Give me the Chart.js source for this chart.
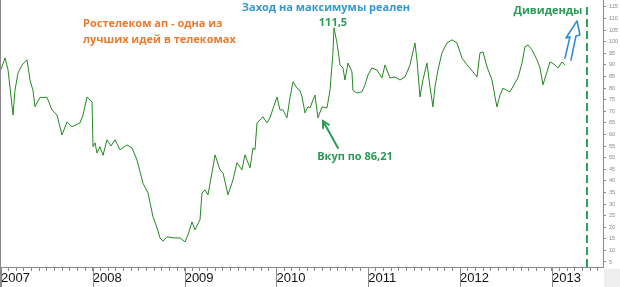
<!DOCTYPE html>
<html>
<head>
<meta charset="utf-8">
<script src="https://cdn.jsdelivr.net/npm/chart.js@4/dist/chart.umd.min.js"></script>
<style>
html,body{margin:0;padding:0;background:#fff;}
#wrap{width:620px;height:287px;position:relative;}
</style>
</head>
<body>
<div id="wrap"><canvas id="c" width="620" height="287"></canvas></div>
<script>
// Time as decimal years, price values (Ростелеком ап)
const dates = [
 2007.000,2007.044,2007.076,2007.131,2007.152,2007.185,2007.229,2007.283,2007.316,2007.348,
 2007.370,2007.425,2007.501,2007.555,2007.610,2007.664,2007.719,2007.773,2007.860,2007.893,
 2007.937,2007.991,2008.002,2008.024,2008.045,2008.078,2008.111,2008.154,2008.198,2008.241,
 2008.296,2008.372,2008.427,2008.481,2008.546,2008.601,2008.655,2008.699,2008.731,2008.764,
 2008.808,2008.873,2008.949,2009.004,2009.036,2009.080,2009.113,2009.167,2009.189,2009.222,
 2009.254,2009.309,2009.331,2009.385,2009.418,2009.472,2009.526,2009.570,2009.624,2009.657,
 2009.712,2009.744,2009.766,2009.788,2009.853,2009.897,2009.929,2010.006,2010.038,2010.071,
 2010.114,2010.147,2010.180,2010.223,2010.256,2010.278,2010.311,2010.343,2010.365,2010.419,
 2010.452,2010.496,2010.550,2010.583,2010.615,2010.626,2010.659,2010.692,2010.724,2010.746,
 2010.779,2010.822,2010.833,2010.877,2010.931,2010.964,2010.997,2011.040,2011.094,2011.149,
 2011.182,2011.236,2011.291,2011.345,2011.400,2011.454,2011.508,2011.530,2011.563,2011.595,
 2011.639,2011.672,2011.704,2011.726,2011.759,2011.802,2011.857,2011.911,2011.966,2012.020,
 2012.075,2012.140,2012.184,2012.216,2012.249,2012.293,2012.347,2012.380,2012.401,2012.434,
 2012.467,2012.510,2012.543,2012.597,2012.630,2012.674,2012.706,2012.739,2012.783,2012.837,
 2012.870,2012.902,2012.946,2012.979,2013.033,2013.066,2013.109,2013.142
];
const prices = [
 88,93,88,68.4,79,86.5,90,92.2,83.5,79,
 72,76,76,70.6,68.4,59.8,65.4,63.3,65,68.4,
 76.2,74,54.7,56.4,52,54.7,51,57.7,55,57.7,
 53.4,55.5,54.2,49,39,34.8,24.5,19.7,15.4,14,
 15.9,15.4,15.4,13.7,16.7,22.3,18.9,23.2,34.8,36.1,
 34,46,51.2,44.7,43.4,34,40.4,47.8,44.7,51.2,
 45.6,54.2,53.4,65,67.6,65,67.2,76.2,70.6,70.6,
 67.2,75.8,82.7,80,79,76.2,69.3,72,71.5,77,
 67.2,71.9,71.5,79,95.2,106,99.5,90,88.7,83.5,
 90.8,87,79,77.9,78.4,81.4,85.7,88.7,87.8,84.4,
 90,84.4,84.8,83.5,84.8,90,99.5,92.2,76.2,83.5,
 90.8,80.5,71.9,80.5,87.8,95.2,99.5,100.8,99.5,93,
 90,87,84.8,95.2,95.6,89.1,83.5,76.2,71.9,77,
 80,79,78.4,82.2,84.4,90.8,97.8,98.6,96.5,92.2,
 88.7,81.4,87,91.3,90,88.7,91.3,90
];
const years = [2007,2008,2009,2010,2011,2012,2013];
const yTickValues = [5,10,15,20,25,30,35,40,45,50,55,60,65,70,75,80,85,90,95,100,105,110,115];
const dividendDate = 2013.382;

const X_MIN = 2006.989, X_MAX = 2013.556, Y_MIN = 2.84, Y_MAX = 118.0;

const GREEN = '#2b9a55';
const annotations = [
  {text:'Ростелеком ап - одна из', x:2007.893, y:107.7, color:'#ec7a2c', align:'left'},
  {text:'лучших идей в телекомах', x:2007.893, y:100.8, color:'#ec7a2c', align:'left'},
  {text:'Заход на максимумы реален', x:2010.539, y:114.6, color:'#2f9ad3', align:'center'},
  {text:'111,5', x:2010.615, y:108.1, color:GREEN, align:'center'},
  {text:'Дивиденды', x:2012.957, y:113.3, color:GREEN, align:'center'},
  {text:'Вкуп по 86,21', x:2010.855, y:50.3, color:GREEN, align:'center'}
];
const buyArrow = {from:[2010.670,54.2], to:[2010.507,65.8]};
const divArrow = [[2013.142,93.0],[2013.196,102.1],[2013.153,101.6],[2013.273,109.0],[2013.305,102.9],[2013.262,102.5],[2013.207,92.1]];

const pricePoints = dates.map((d,i)=>({x:d, y:prices[i]}));

const overlay = {
  id:'overlay',
  afterDatasetsDraw(chart){
    const ctx = chart.ctx, xs = chart.scales.x, ys = chart.scales.y;
    const px = v => xs.getPixelForValue(v), py = v => ys.getPixelForValue(v);
    ctx.save();
    ctx.font = 'bold 11px "Open Sans", "Noto Sans", sans-serif';
    ctx.textBaseline = 'middle';
    annotations.forEach(a=>{
      ctx.fillStyle = a.color; ctx.textAlign = a.align;
      ctx.fillText(a.text, px(a.x), py(a.y));
    });
    const x1 = px(buyArrow.from[0]), y1 = py(buyArrow.from[1]);
    const x2 = px(buyArrow.to[0]), y2 = py(buyArrow.to[1]);
    ctx.strokeStyle = GREEN; ctx.lineWidth = 2; ctx.lineCap='round';
    ctx.beginPath(); ctx.moveTo(x1,y1); ctx.lineTo(x2,y2); ctx.stroke();
    const ang = Math.atan2(y2-y1, x2-x1), hl = 7;
    ctx.beginPath();
    ctx.moveTo(x2 - hl*Math.cos(ang-0.5), y2 - hl*Math.sin(ang-0.5));
    ctx.lineTo(x2,y2);
    ctx.lineTo(x2 - hl*Math.cos(ang+0.5), y2 - hl*Math.sin(ang+0.5));
    ctx.stroke();
    ctx.strokeStyle = '#2f8fd0'; ctx.lineWidth = 1.6; ctx.lineJoin='round';
    ctx.beginPath();
    divArrow.forEach((p,i)=>{ const X=px(p[0]), Y=py(p[1]); i?ctx.lineTo(X,Y):ctx.moveTo(X,Y); });
    ctx.stroke();
    ctx.restore();
  },
  afterDraw(chart){
    const ctx = chart.ctx, xs = chart.scales.x, ca = chart.chartArea;
    ctx.save();
    ctx.strokeStyle = '#8a8a8a'; ctx.lineWidth = 1;
    ctx.beginPath(); ctx.moveTo(ca.left+0.5, ca.top); ctx.lineTo(ca.left+0.5, chart.height); ctx.stroke();
    years.forEach(yr=>{
      const X = Math.round(xs.getPixelForValue(yr))+0.5;
      ctx.beginPath(); ctx.moveTo(X, ca.bottom); ctx.lineTo(X, chart.height); ctx.stroke();
    });
    ctx.fillStyle = '#eeeeee';
    ctx.fillRect(ca.right+1, ca.bottom+2, chart.width-ca.right-1, chart.height-ca.bottom-2);
    ctx.restore();
  }
};

new Chart(document.getElementById('c'), {
  type:'line',
  data:{
    datasets:[
      {data:pricePoints, borderColor:'#22881f', borderWidth:1, pointRadius:0, tension:0, fill:false},
      {data:[{x:dividendDate,y:Y_MIN},{x:dividendDate,y:Y_MAX-1.5}], borderColor:'#2fa05c', borderWidth:2,
       borderDash:[8,4], pointRadius:0, fill:false}
    ]
  },
  options:{
    responsive:false, animation:false, devicePixelRatio:1,
    layout:{padding:0},
    plugins:{legend:{display:false}, tooltip:{enabled:false}},
    scales:{
      x:{
        type:'linear', position:'bottom', min:X_MIN, max:X_MAX,
        afterBuildTicks(s){
          const t=[]; for(let y=2007;y<=2013;y++){ for(let m=0;m<12;m++){ const v=y+m/12; if(v<=X_MAX) t.push({value:v}); } }
          s.ticks=t;
        },
        afterFit(s){ s.height=20; s.paddingLeft=0; s.paddingRight=0; },
        grid:{display:true, drawOnChartArea:false, drawTicks:true, tickLength:4, color:'#8a8a8a'},
        border:{display:true, color:'#8a8a8a'},
        ticks:{
          autoSkip:false, maxRotation:0, minRotation:0, align:'start', padding:0,
          color:'#111', font:{family:'"Liberation Sans", Arial, sans-serif', size:13},
          callback:(v)=> Math.abs(v-Math.round(v))<1e-6 ? String(Math.round(v)) : ''
        }
      },
      y:{
        type:'linear', position:'right', min:Y_MIN, max:Y_MAX,
        afterBuildTicks(s){ s.ticks = yTickValues.map(v=>({value:v})); },
        afterFit(s){ s.width=17; s.paddingTop=0; s.paddingBottom=0; },
        grid:{display:true, drawOnChartArea:false, tickLength:3, color:'#8a8a8a'},
        border:{display:true, color:'#8a8a8a'},
        ticks:{padding:3, color:'#888', font:{family:'"Liberation Sans", Arial, sans-serif', size:5.5},
          callback:v=>String(v)}
      }
    }
  },
  plugins:[overlay]
});
</script>
</body>
</html>
